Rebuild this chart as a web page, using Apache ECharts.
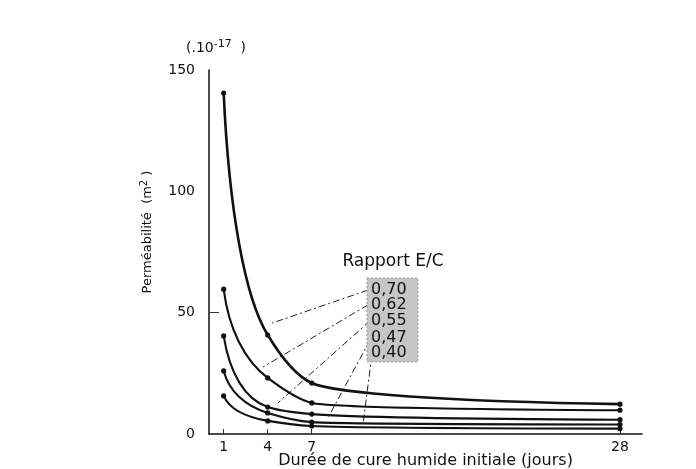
<!DOCTYPE html>
<html>
<head>
<meta charset="utf-8">
<script src="https://cdn.jsdelivr.net/npm/echarts@6/dist/echarts.min.js"></script>
<style>html,body{margin:0;padding:0;background:#fff;}#c{width:696px;height:469px;}</style>
</head>
<body>
<div id="c"></div>
<script>
// Data
var days = [1, 4, 7, 28];
var ratios = ['0,70', '0,62', '0,55', '0,47', '0,40'];
var s070 = [140.5, 40.8, 21.0, 12.3];
var s062 = [59.7, 23.1, 12.8, 9.8];
var s055 = [40.4, 11.1, 8.2, 5.9];
var s047 = [26.0, 8.7, 4.9, 3.9];
var s040 = [15.7, 5.4, 3.3, 2.2];
var yTicks = [0, 50, 100, 150];
var xTicks = [1, 4, 7, 28];
// leader lines (annotation) from label box to curves, in data units
var leaderFrom = [[10.83, 59.3], [10.83, 53.2], [10.97, 46.6], [10.97, 38.7], [11.1, 32.6]];
var leaderTo = [[4.29, 45.7], [3.68, 27.6], [4.7, 12.8], [8.1, 6.6], [10.5, 4.5]];

var seriesData = [s070, s062, s055, s047, s040];
var FONT = 'DejaVu Sans';
var chart = echarts.init(document.getElementById('c'), null, {renderer: 'canvas'});

// tangent slopes dy/dx estimated in 1/x space (hyperbola-like decay curves)
function slopes(vals) {
  var u = days.map(function (d) { return 1 / d; });
  var n = days.length, seg = [], m = [];
  for (var i = 0; i < n - 1; i++) seg.push((vals[i + 1] - vals[i]) / (u[i + 1] - u[i]));
  for (var j = 0; j < n; j++) {
    var du = j === 0 ? seg[0] : (j === n - 1 ? seg[n - 2] : (seg[j - 1] + seg[j]) / 2);
    m.push(-du / (days[j] * days[j]));
  }
  return m;
}

function buildCurveSeries(vals, k) {
  var m = slopes(vals);
  return {
    type: 'custom', name: ratios[k], z: 3,
    data: days.map(function (d, i) { return [d, vals[i]]; }),
    renderItem: function (params, api) {
      var idx = params.dataIndex;
      var P = days.map(function (d, i) { return api.coord([d, vals[i]]); });
      var dot = {type: 'circle', shape: {cx: P[idx][0], cy: P[idx][1], r: 2.6}, style: {fill: '#111'}};
      if (idx !== 0) return dot;
      var o = api.coord([days[0], vals[0]]);
      var ux = api.coord([days[0] + 1, vals[0]]);
      var uy = api.coord([days[0], vals[0] + 1]);
      var sx = ux[0] - o[0], sy = uy[1] - o[1];
      var T = m.map(function (s) { var tx = sx, ty = s * sy; var L = Math.sqrt(tx * tx + ty * ty); return [tx / L, ty / L]; });
      var path = 'M' + P[0][0] + ' ' + P[0][1];
      for (var i = 0; i < P.length - 1; i++) {
        var a = P[i], b = P[i + 1], ta = T[i], tb = T[i + 1];
        var rx = b[0] - a[0], ry = b[1] - a[1];
        // solve a + ta*t = b - tb*s
        var D = ta[0] * tb[1] - tb[0] * ta[1];
        var c1, c2, kk = 0.64, ok = false;
        if (Math.abs(D) > 1e-9) {
          var t = (rx * tb[1] - tb[0] * ry) / D;
          var s = (ta[0] * ry - rx * ta[1]) / D;
          if (t > 0 && s > 0) {
            var C = [a[0] + ta[0] * t, a[1] + ta[1] * t];
            c1 = [a[0] + kk * (C[0] - a[0]), a[1] + kk * (C[1] - a[1])];
            c2 = [b[0] + kk * (C[0] - b[0]), b[1] + kk * (C[1] - b[1])];
            ok = true;
          }
        }
        if (!ok) {
          var ch = Math.sqrt(rx * rx + ry * ry) / 3;
          c1 = [a[0] + ta[0] * ch, a[1] + ta[1] * ch];
          c2 = [b[0] - tb[0] * ch, b[1] - tb[1] * ch];
        }
        path += ' C' + c1[0] + ' ' + c1[1] + ' ' + c2[0] + ' ' + c2[1] + ' ' + b[0] + ' ' + b[1];
      }
      return {
        type: 'group', children: [
          {type: 'path', shape: {pathData: path}, style: {fill: 'none', stroke: '#111', lineWidth: k === 0 ? 2.6 : 2.1}},
          dot
        ]
      };
    }
  };
}

var series = seriesData.map(buildCurveSeries);
series.push({
  type: 'lines', coordinateSystem: 'cartesian2d', silent: true,
  data: leaderFrom.map(function (p, i) { return {coords: [p, leaderTo[i]]}; }),
  lineStyle: {color: '#222', width: 1, type: [7, 3, 2, 3], opacity: 1},
  z: 2
});

chart.setOption({
  backgroundColor: '#ffffff',
  animation: false,
  grid: {left: 209, right: 54, top: 70, bottom: 35, outerBoundsMode: 'none', containLabel: false},
  xAxis: {
    type: 'value', min: 0, max: 29.5,
    axisLine: {show: true, lineStyle: {color: '#111', width: 1.5}},
    axisTick: {show: true, inside: true, length: 5, customValues: xTicks, lineStyle: {color: '#333'}},
    axisLabel: {customValues: xTicks, color: '#111', fontFamily: FONT, fontSize: 14, margin: 6},
    splitLine: {show: false},
    name: 'Durée de cure humide initiale (jours)', nameLocation: 'middle', nameGap: 19, nameMoveOverlap: false,
    nameTextStyle: {color: '#111', fontFamily: FONT, fontSize: 16}
  },
  yAxis: {
    type: 'value', min: 0, max: 150, interval: 50,
    axisLine: {show: true, lineStyle: {color: '#111', width: 1.5}},
    axisTick: {show: true, inside: true, length: 10, customValues: [50], lineStyle: {color: '#333'}},
    axisLabel: {customValues: yTicks, color: '#111', fontFamily: FONT, fontSize: 14, margin: 14},
    splitLine: {show: false}
  },
  graphic: [
    {type: 'text', x: 148, y: 232, rotation: Math.PI / 2,
     style: {text: '{a|Perméabilité  (m}{s|2}{a| )}', align: 'center', verticalAlign: 'middle', fill: '#111',
       rich: {a: {fontFamily: FONT, fontSize: 13, fill: '#111'}, s: {fontFamily: FONT, fontSize: 10, fill: '#111', verticalAlign: 'top', padding: [0, 0, 8, 0]}}}},
    {type: 'text', x: 186, y: 48,
     style: {text: '{a|(.10}{s|-17}{a|  )}', verticalAlign: 'middle', fill: '#111',
       rich: {a: {fontFamily: FONT, fontSize: 14, fill: '#111'}, s: {fontFamily: FONT, fontSize: 11, fill: '#111', padding: [0, 0, 8, 0]}}}},
    {type: 'text', x: 393, y: 262,
     style: {text: 'Rapport E/C', align: 'center', verticalAlign: 'middle', fill: '#111', fontFamily: FONT, fontSize: 17}},
    {type: 'rect', shape: {x: 367, y: 278, width: 51, height: 84}, style: {fill: '#c6c6c6', stroke: '#999', lineWidth: 1, lineDash: [2, 2]}, z: 5},
    {type: 'text', x: 371, y: 290, style: {text: ratios[0], verticalAlign: 'middle', fill: '#111', fontFamily: FONT, fontSize: 16}, z: 6},
    {type: 'text', x: 371, y: 305, style: {text: ratios[1], verticalAlign: 'middle', fill: '#111', fontFamily: FONT, fontSize: 16}, z: 6},
    {type: 'text', x: 371, y: 321, style: {text: ratios[2], verticalAlign: 'middle', fill: '#111', fontFamily: FONT, fontSize: 16}, z: 6},
    {type: 'text', x: 371, y: 338, style: {text: ratios[3], verticalAlign: 'middle', fill: '#111', fontFamily: FONT, fontSize: 16}, z: 6},
    {type: 'text', x: 371, y: 353, style: {text: ratios[4], verticalAlign: 'middle', fill: '#111', fontFamily: FONT, fontSize: 16}, z: 6}
  ],
  series: series
});
</script>
</body>
</html>
